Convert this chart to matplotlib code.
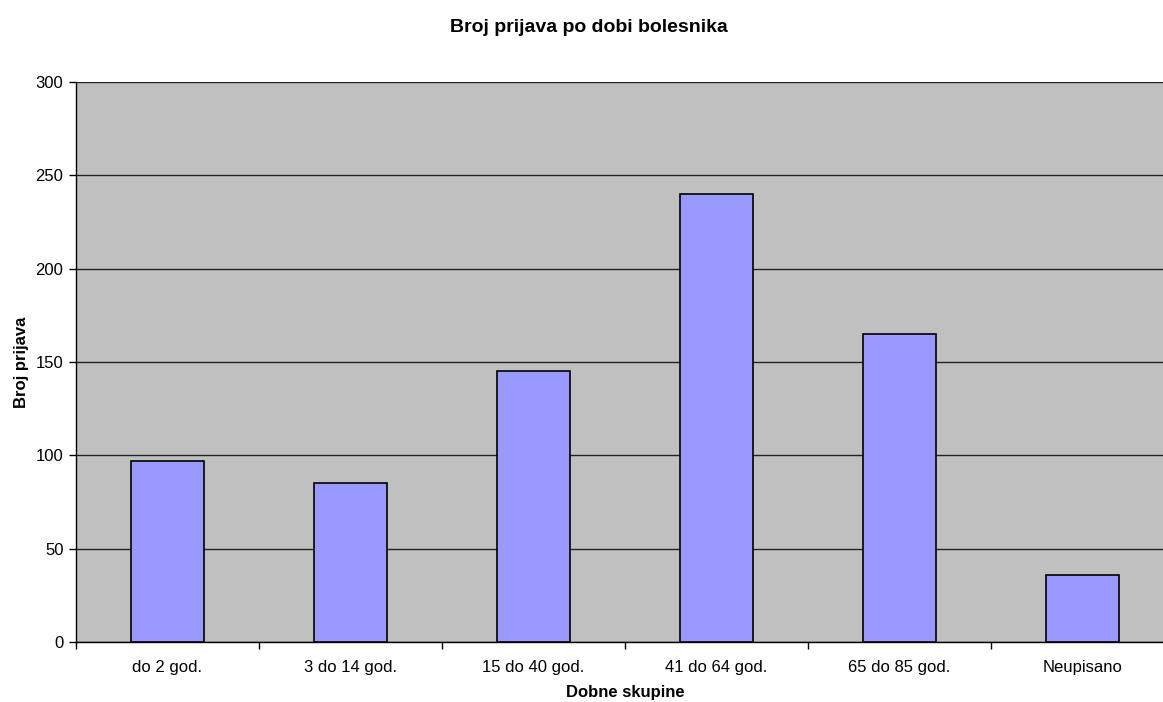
import matplotlib.pyplot as plt
import numpy as np

plt.rcParams['font.family'] = ['Liberation Sans', 'DejaVu Sans']

# Data
categories = ['do 2 god.', '3 do 14 god.', '15 do 40 god.', '41 do 64 god.', '65 do 85 god.', 'Neupisano']
counts = [97, 85, 145, 240, 165, 36]

fig = plt.figure(figsize=(11.63, 7.02), dpi=100)
# plot area runs past the right edge of the picture (cropped as in the original)
ax = fig.add_axes([76 / 1163, 60 / 702, 1098 / 1163, 560 / 702])
ax.set_facecolor('#c0c0c0')

x = np.arange(len(categories))
ax.bar(x, counts, width=0.4, color='#9999ff', edgecolor='black', linewidth=1.2, zorder=3)

ax.set_xlim(-0.5, len(categories) - 0.5)
ax.set_ylim(0, 300)
ax.set_yticks(np.arange(0, 301, 50))
ax.yaxis.grid(True, color='#222222', linewidth=1.0, zorder=1)
ax.set_axisbelow(True)

# category labels centred, ticks between categories
ax.set_xticks(x)
ax.set_xticklabels(categories, fontsize=12)
ax.tick_params(axis='x', length=0, pad=13)
ax.set_xticks(np.arange(-0.5, len(categories), 1), minor=True)
ax.tick_params(axis='x', which='minor', length=5, width=1, direction='out')
ax.tick_params(axis='y', length=5, width=1, direction='out', labelsize=12, pad=4)

for s in ['top', 'right']:
    ax.spines[s].set_visible(False)
ax.spines['left'].set_linewidth(1)
ax.spines['bottom'].set_linewidth(1)

ax.set_xlabel('Dobne skupine', fontsize=12, fontweight='bold', labelpad=7)
ax.set_ylabel('Broj prijava', fontsize=12, fontweight='bold', labelpad=5)
fig.text(589 / 1163, 1 - 27 / 702, 'Broj prijava po dobi bolesnika', fontsize=14,
         fontweight='bold', ha='center', va='center')

plt.savefig('out.png', dpi=100)
